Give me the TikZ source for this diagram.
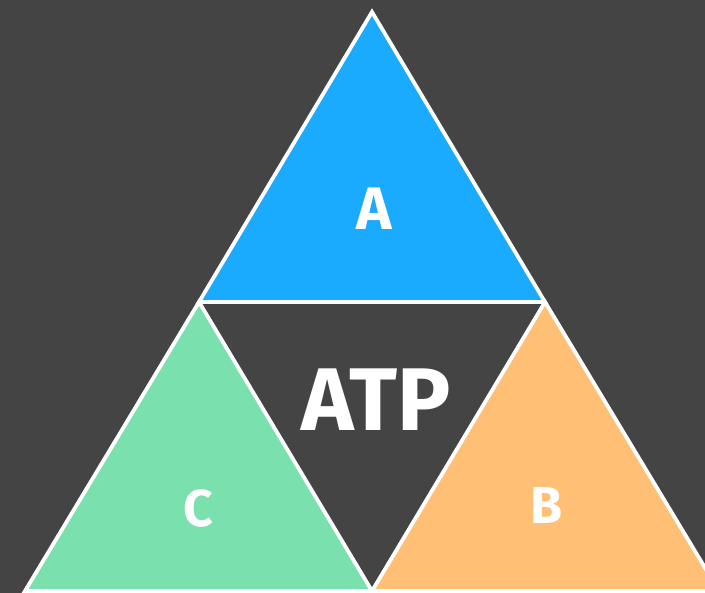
\documentclass[tikz,border=0pt]{standalone}
\usepackage{fontspec}
\setmainfont{Fira Sans}
\definecolor{bg}{HTML}{444444}
\definecolor{tblue}{HTML}{1AABFF}
\definecolor{tgreen}{HTML}{7AE0AE}
\definecolor{torange}{HTML}{FFBF75}
\begin{document}
\begin{tikzpicture}[x=1pt,y=-1pt,
  tri/.style={draw=white,line width=3.8pt,line join=miter},
  lbl/.style={text=white,font=\bfseries,inner sep=0pt,anchor=center}]
\useasboundingbox (0,0) rectangle (705,593);
\fill[bg] (0,0) rectangle (705,593);
\begin{scope}
\clip (0,0) rectangle (705,593);
\coordinate (top) at (372,12);
\coordinate (ml) at (199,302);
\coordinate (mr) at (545,302);
\coordinate (bl) at (25,591);
\coordinate (bm) at (372,591);
\coordinate (br) at (719,591);
\filldraw[tri,fill=tblue] (top) -- (mr) -- (ml) -- cycle;
\filldraw[tri,fill=tgreen] (ml) -- (bm) -- (bl) -- cycle;
\filldraw[tri,fill=torange] (mr) -- (br) -- (bm) -- cycle;
\end{scope}
\node[lbl,font=\bfseries\fontsize{60}{60}\selectfont] (a) at (374,209) {A};
\node[lbl,font=\bfseries\fontsize{89}{89}\selectfont] (atp) at (376,400) {ATP};
\node[lbl,font=\bfseries\fontsize{52}{52}\selectfont] (c) at (198,508) {C};
\node[lbl,font=\bfseries\fontsize{52}{52}\selectfont] (b) at (547,505) {B};
\end{tikzpicture}
\end{document}
